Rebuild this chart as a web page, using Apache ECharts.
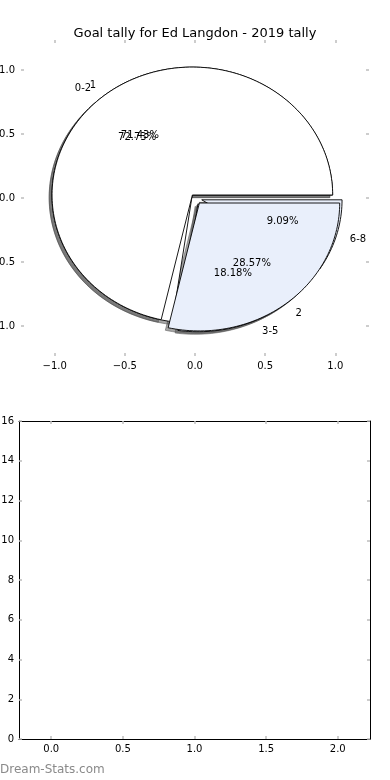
<!DOCTYPE html>
<html><head><meta charset="utf-8">
<script src="https://cdn.jsdelivr.net/npm/echarts@6/dist/echarts.min.js"></script>
<style>html,body{margin:0;padding:0;background:#fff}#c{width:390px;height:780px}</style>
</head><body><div id="c"></div>
<script>
const pie1Labels = ['0-2', '3-5', '6-8'];
const pie1Values = [8, 2, 1];
const pie2Labels = ['1', '2'];
const pie2Values = [5, 2];
const topTicks = [-1, -0.5, 0, 0.5, 1];
const bottomXTicks = [0, 0.5, 1, 1.5, 2];
const bottomYTicks = [0, 2, 4, 6, 8, 10, 12, 14, 16];

// styling (not data)
const explode1 = [0.03, 0.05, 0.05];
const explode2 = [0.03, 0.05];
const colors1 = ['#ffffff', '#e9effb', '#e9effb'];
const colors2 = ['#ffffff', '#e9effb'];
const FONT = 'DejaVu Sans';
const TICK = '#bdbdbd';

function buildWedges(labels, values, explode, colors) {
  const total = values.reduce((a, b) => a + b, 0);
  let acc = 0;
  return values.map((v, i) => {
    const t1 = acc / total * 360; acc += v; const t2 = acc / total * 360;
    const tm = (t1 + t2) / 2 * Math.PI / 180;
    return {
      label: labels[i], pct: (v / total * 100).toFixed(2) + '%',
      t1, t2, tm, cx: explode[i] * Math.cos(tm), cy: explode[i] * Math.sin(tm), color: colors[i]
    };
  });
}
const wedges = buildWedges(pie1Labels, pie1Values, explode1, colors1)
  .concat(buildWedges(pie2Labels, pie2Values, explode2, colors2));

function wedgePoints(api, w, ox, oy) {
  const pts = [api.coord([w.cx + ox, w.cy + oy])];
  const n = Math.max(8, Math.ceil((w.t2 - w.t1) / 1.5));
  for (let k = 0; k <= n; k++) {
    const t = (w.t1 + (w.t2 - w.t1) * k / n) * Math.PI / 180;
    pts.push(api.coord([w.cx + ox + Math.cos(t), w.cy + oy + Math.sin(t)]));
  }
  return pts;
}
const fmt1 = v => (v < 0 ? '\u2212' : '') + Math.abs(v).toFixed(1);
const wedgeData = wedges.map(w => [w.cx, w.cy]);

function ticks(vals) {
  return { show: true, inside: true, length: 3, customValues: vals, lineStyle: { color: TICK, width: 1.5 } };
}
function axis(extra) {
  return Object.assign({
    type: 'value', splitLine: { show: false },
    axisLabel: { show: false }, axisLine: { show: false, onZero: false }
  }, extra);
}
const frameLine = { show: true, onZero: false, lineStyle: { color: '#000', width: 1 } };
function lbl(vals, margin, f) {
  const o = { show: true, customValues: vals, margin: margin, fontFamily: FONT, fontSize: 10, color: '#000' };
  if (f) o.formatter = f;
  return o;
}

const chart = echarts.init(document.getElementById('c'), null, { renderer: 'canvas' });
chart.setOption({
  animation: false,
  backgroundColor: '#fff',
  title: {
    text: 'Goal tally for Ed Langdon - 2019 tally', left: 'center', top: 22,
    textStyle: { fontFamily: FONT, fontSize: 13, fontWeight: 'normal', color: '#000' }
  },
  graphic: [{
    type: 'text', left: 0, top: 764,
    style: { text: 'Dream-Stats.com', fontFamily: FONT, fontSize: 12, fill: '#8a8a8a', fontWeight: 'normal' }
  }],
  grid: [
    { left: 21, top: 40, width: 348, height: 316, outerBoundsMode: 'none', containLabel: false },
    { left: 19, top: 421, width: 351, height: 318, outerBoundsMode: 'none', containLabel: false }
  ],
  xAxis: [
    axis({ gridIndex: 0, position: 'bottom', min: -1.24, max: 1.24, axisTick: ticks(topTicks), axisLabel: lbl(topTicks, 5, fmt1) }),
    axis({ gridIndex: 0, position: 'top', min: -1.24, max: 1.24, axisTick: ticks(topTicks) }),
    axis({ gridIndex: 1, position: 'bottom', min: -0.225, max: 2.225, axisLine: frameLine, axisTick: ticks(bottomXTicks), axisLabel: lbl(bottomXTicks, 5, fmt1) }),
    axis({ gridIndex: 1, position: 'top', min: -0.225, max: 2.225, axisLine: frameLine, axisTick: ticks(bottomXTicks) })
  ],
  yAxis: [
    axis({ gridIndex: 0, position: 'left', min: -1.235, max: 1.235, axisTick: ticks(topTicks), axisLabel: lbl(topTicks, 6, fmt1) }),
    axis({ gridIndex: 0, position: 'right', min: -1.235, max: 1.235, axisTick: ticks(topTicks) }),
    axis({ gridIndex: 1, position: 'left', min: 0, max: 16, axisLine: frameLine, axisTick: ticks(bottomYTicks), axisLabel: lbl(bottomYTicks, 5) }),
    axis({ gridIndex: 1, position: 'right', min: 0, max: 16, axisLine: frameLine, axisTick: ticks(bottomYTicks) })
  ],
  series: [
    {
      type: 'custom', name: 'shadows', xAxisIndex: 0, yAxisIndex: 0, silent: true, z: 1,
      data: wedgeData,
      renderItem: (params, api) => {
        const w = wedges[params.dataIndex];
        return { type: 'polygon', z2: params.dataIndex,
          shape: { points: wedgePoints(api, w, -0.02, -0.02) },
          style: { fill: 'rgba(77,77,77,0.5)', stroke: 'rgba(77,77,77,0.5)', lineWidth: 1 } };
      }
    },
    {
      type: 'custom', name: 'wedges', xAxisIndex: 0, yAxisIndex: 0, silent: true, z: 2,
      data: wedgeData,
      renderItem: (params, api) => {
        const w = wedges[params.dataIndex];
        return { type: 'polygon', z2: params.dataIndex,
          shape: { points: wedgePoints(api, w, 0, 0) },
          style: { fill: w.color, stroke: '#000', lineWidth: 0.9, lineJoin: 'miter' } };
      }
    },
    {
      type: 'custom', name: 'texts', xAxisIndex: 0, yAxisIndex: 0, silent: true, z: 3,
      data: wedgeData,
      renderItem: (params, api) => {
        const w = wedges[params.dataIndex];
        const lx = w.cx + 1.1 * Math.cos(w.tm), ly = w.cy + 1.1 * Math.sin(w.tm);
        const px = w.cx + 0.6 * Math.cos(w.tm), py = w.cy + 0.6 * Math.sin(w.tm);
        const lp = api.coord([lx, ly]), pp = api.coord([px, py]);
        return { type: 'group', children: [
          { type: 'text', x: lp[0], y: lp[1], style: { text: w.label, fontFamily: FONT, fontSize: 10, fill: '#000',
            align: lx > 0 ? 'left' : 'right', verticalAlign: 'middle' } },
          { type: 'text', x: pp[0], y: pp[1], style: { text: w.pct, fontFamily: FONT, fontSize: 10, fill: '#000',
            align: 'center', verticalAlign: 'middle' } }
        ] };
      }
    },
    { type: 'line', xAxisIndex: 2, yAxisIndex: 2, data: [], silent: true }
  ]
});
</script></body></html>
